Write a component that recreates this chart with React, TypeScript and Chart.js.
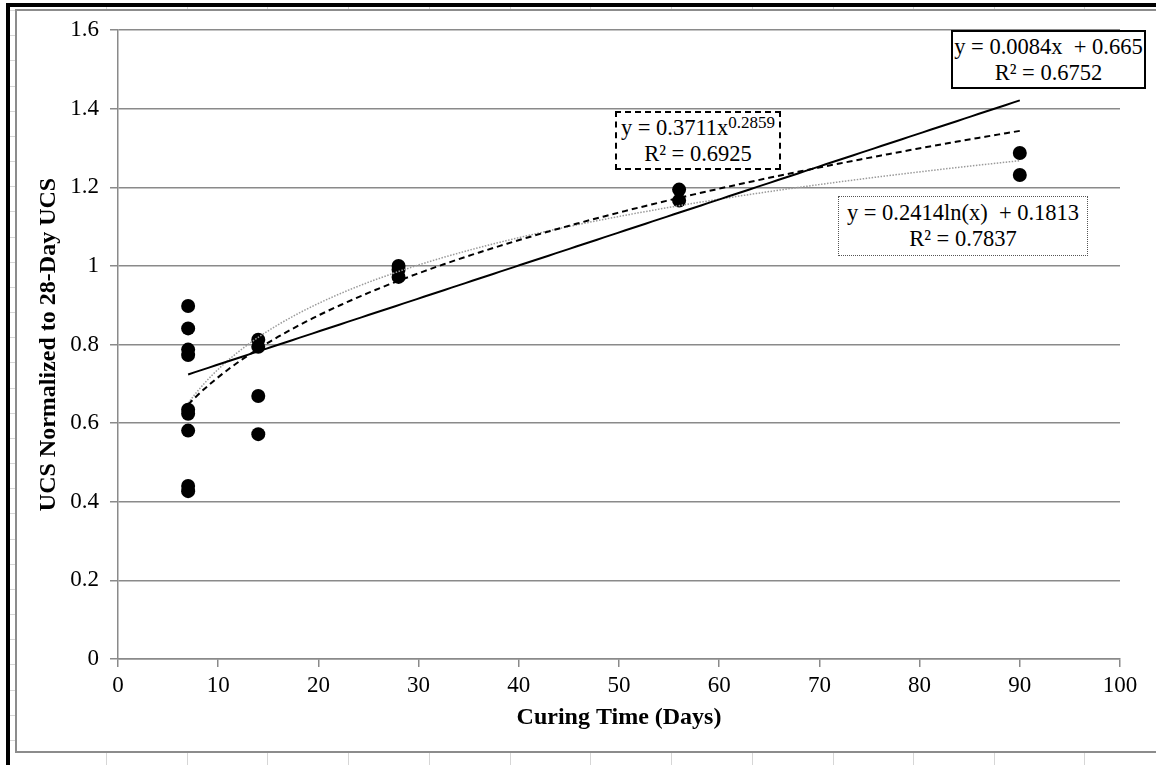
import React, { useEffect, useRef } from "react";
import { Chart, registerables } from "chart.js";

Chart.register(...registerables);

// ---- data ----
const curingDays = [7, 7, 7, 7, 7, 7, 7, 7, 7, 14, 14, 14, 14, 28, 28, 28, 56, 56, 90, 90];
const normalizedUcs = [
  0.898, 0.841, 0.787, 0.773, 0.634, 0.624, 0.581, 0.44, 0.427,
  0.812, 0.794, 0.669, 0.572,
  1.0, 0.99, 0.972,
  1.194, 1.166,
  1.287, 1.231,
];
const xTicks = [0, 10, 20, 30, 40, 50, 60, 70, 80, 90, 100];
const yTicks = [0, 0.2, 0.4, 0.6, 0.8, 1.0, 1.2, 1.4, 1.6];
const yTickLabels = ["0", "0.2", "0.4", "0.6", "0.8", "1", "1.2", "1.4", "1.6"];

// trendline coefficients as printed on the chart
const linearFit = [0.0084, 0.665]; // slope, intercept
const powerFit = [0.3711, 0.2859]; // a, b  (y = a x^b)
const logFit = [0.2414, 0.1813]; // a, b  (y = a ln x + b)
const trendRange = [7, 90];

const xTitle = "Curing Time (Days)";
const yTitle = "UCS Normalized to 28-Day UCS";

const FONT = "'Liberation Serif', 'Times New Roman', serif";
const GRID = "#8a8a8a";
const CELL = "#d6d6d6";

function sampleCurve(fn: (x: number) => number) {
  const pts: { x: number; y: number }[] = [];
  const [a, b] = trendRange;
  const n = 120;
  for (let i = 0; i <= n; i++) {
    const x = a + ((b - a) * i) / n;
    pts.push({ x, y: fn(x) });
  }
  return pts;
}

const cellXs = [106, 187, 267, 348, 429, 510, 590, 671, 752, 833, 913, 994, 1084];

export default function App() {
  const ref = useRef<HTMLCanvasElement>(null);

  useEffect(() => {
    if (!ref.current) return;
    const points = curingDays.map((x, i) => ({ x, y: normalizedUcs[i] }));
    const lin = sampleCurve((x) => linearFit[0] * x + linearFit[1]);
    const pow = sampleCurve((x) => powerFit[0] * Math.pow(x, powerFit[1]));
    const lg = sampleCurve((x) => logFit[0] * Math.log(x) + logFit[1]);

    const tickFont = { family: FONT, size: 23 };
    const titleFont = { family: FONT, size: 24, weight: "bold" as const };

    const chart = new Chart(ref.current, {
      type: "scatter",
      data: {
        datasets: [
          {
            label: "UCS",
            data: points,
            pointRadius: 7,
            pointHoverRadius: 7,
            pointBackgroundColor: "#000",
            pointBorderColor: "#000",
            pointBorderWidth: 0,
            showLine: false,
            order: 3,
          },
          {
            label: "Linear",
            data: lin,
            showLine: true,
            borderColor: "#000",
            borderWidth: 2,
            pointRadius: 0,
            order: 0,
          },
          {
            label: "Power",
            data: pow,
            showLine: true,
            borderColor: "#000",
            borderWidth: 2,
            borderDash: [6, 4],
            pointRadius: 0,
            order: 1,
          },
          {
            label: "Log",
            data: lg,
            showLine: true,
            borderColor: "#9a9a9a",
            borderWidth: 1.5,
            borderDash: [1.5, 1.5],
            pointRadius: 0,
            order: 2,
          },
        ],
      },
      options: {
        animation: false,
        responsive: false,
        maintainAspectRatio: false,
        devicePixelRatio: 1,
        events: [],
        layout: { padding: { top: 19, right: 36, bottom: 0, left: 0 } },
        plugins: { legend: { display: false }, tooltip: { enabled: false }, title: { display: false } },
        scales: {
          x: {
            type: "linear",
            min: 0,
            max: 100,
            afterBuildTicks: (s: any) => {
              s.ticks = xTicks.map((v) => ({ value: v }));
            },
            afterFit: (s: any) => {
              s.height = 92;
              s.paddingLeft = 0;
              s.paddingRight = 0;
            },
            ticks: { font: tickFont, color: "#000", padding: 5, maxRotation: 0, autoSkip: false },
            grid: { drawOnChartArea: false, drawTicks: true, tickLength: 8, color: GRID, lineWidth: 1.5 },
            border: { display: true, color: GRID, width: 1.5 },
            title: {
              display: true,
              text: xTitle,
              font: titleFont,
              color: "#000",
              padding: { top: 0, bottom: 19 },
            },
          },
          y: {
            type: "linear",
            min: 0,
            max: 1.6,
            afterBuildTicks: (s: any) => {
              s.ticks = yTicks.map((v) => ({ value: v }));
            },
            afterFit: (s: any) => {
              s.width = 101;
              s.paddingTop = 0;
              s.paddingBottom = 0;
            },
            ticks: {
              font: tickFont,
              color: "#000",
              padding: 11,
              autoSkip: false,
              callback: (v: any) => {
                const i = yTicks.findIndex((t) => Math.abs(t - Number(v)) < 1e-6);
                return i >= 0 ? yTickLabels[i] : "";
              },
            },
            grid: { drawOnChartArea: true, drawTicks: true, tickLength: 8, color: GRID, lineWidth: 1.5 },
            border: { display: true, color: GRID, width: 1.5 },
            title: {
              display: true,
              text: yTitle,
              font: titleFont,
              color: "#000",
              padding: { top: 17, bottom: 0 },
            },
          },
        },
      },
    });
    return () => chart.destroy();
  }, []);

  const leftCellYs: number[] = [];
  for (let y = 10; y < 765; y += 25.17) leftCellYs.push(Math.round(y));

  const boxBase: React.CSSProperties = {
    position: "absolute",
    boxSizing: "border-box",
    background: "#fff",
    fontFamily: FONT,
    fontSize: 22.5,
    lineHeight: "26px",
    color: "#000",
    display: "flex",
    flexDirection: "column",
    justifyContent: "center",
    alignItems: "center",
    whiteSpace: "pre",
  };

  return (
    <div
      style={{
        position: "fixed",
        left: 0,
        top: 0,
        width: 1156,
        height: 765,
        background: "#fff",
        overflow: "hidden",
      }}
    >
      {/* spreadsheet cell lines */}
      {leftCellYs.map((y, i) => (
        <div key={"l" + i} style={{ position: "absolute", left: 10, top: y, width: 5, height: 1, background: CELL }} />
      ))}
      {cellXs.map((x, i) => (
        <div key={"t" + i} style={{ position: "absolute", left: x, top: 7, width: 1, height: 2, background: CELL }} />
      ))}
      {cellXs.map((x, i) => (
        <div key={"b" + i} style={{ position: "absolute", left: x, top: 753, width: 1, height: 12, background: CELL }} />
      ))}
      {/* black selection frame */}
      <div style={{ position: "absolute", left: 6, top: 3, width: 4, height: 762, background: "#000" }} />
      <div style={{ position: "absolute", left: 6, top: 3, width: 1150, height: 4, background: "#000" }} />
      {/* chart area border */}
      <div
        style={{
          position: "absolute",
          left: 15,
          top: 9,
          width: 1300,
          height: 744,
          boxSizing: "border-box",
          border: "2px solid #8c8c8c",
          background: "#fff",
        }}
      />
      <canvas
        ref={ref}
        width={1139}
        height={740}
        style={{ position: "absolute", left: 17, top: 11, width: 1139, height: 740 }}
      />
      {/* trendline labels */}
      <div style={{ ...boxBase, left: 951, top: 30, width: 195, height: 59, border: "2px solid #000" }}>
        <div>{"y = 0.0084x  + 0.665"}</div>
        <div>{"R² = 0.6752"}</div>
      </div>
      <div style={{ ...boxBase, left: 615, top: 111, width: 166, height: 59, border: "2px dashed #000" }}>
        <div>
          {"y = 0.3711x"}
          <sup style={{ fontSize: 17, lineHeight: 0, verticalAlign: "7px" }}>0.2859</sup>
        </div>
        <div>{"R² = 0.6925"}</div>
      </div>
      <div style={{ ...boxBase, left: 838, top: 196, width: 250, height: 60, border: "1.5px dotted #555" }}>
        <div>{"y = 0.2414ln(x)  + 0.1813"}</div>
        <div>{"R² = 0.7837"}</div>
      </div>
    </div>
  );
}
